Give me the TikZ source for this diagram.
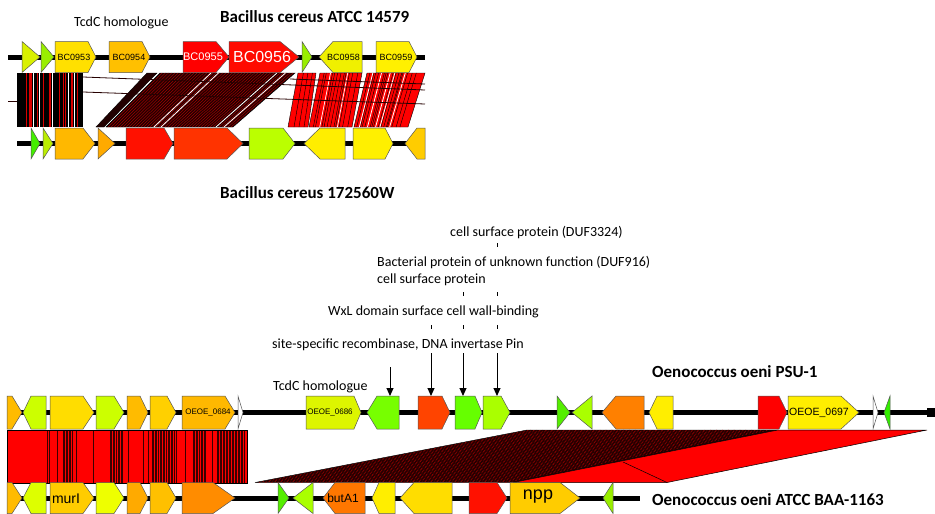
\documentclass[tikz,border=0pt]{standalone}
\usepackage{fontspec}
\setmainfont{Carlito}
\newfontfamily\arialf{Liberation Sans}
\usetikzlibrary{arrows.meta}
\definecolor{darkband}{HTML}{220000}
\definecolor{hatchred}{HTML}{C00000}
\definecolor{geneline}{HTML}{555555}
\definecolor{stripe}{HTML}{3A0000}
\def\gh{15.5}
\newcommand{\geneR}[5]{\definecolor{gc}{HTML}{#5}\filldraw[gene,fill=gc] (#1,#4-\gh) -- (#2-#3,#4-\gh) -- (#2,#4) -- (#2-#3,#4+\gh) -- (#1,#4+\gh) -- cycle;}
\newcommand{\geneL}[5]{\definecolor{gc}{HTML}{#5}\filldraw[gene,fill=gc] (#2,#4-\gh) -- (#1+#3,#4-\gh) -- (#1,#4) -- (#1+#3,#4+\gh) -- (#2,#4+\gh) -- cycle;}
\tikzset{
  gene/.style={draw=geneline,line width=0.5pt,line join=miter},
  track/.style={line width=5pt,black},
  glab/.style={font=\arialf\fontsize{9}{10}\selectfont,inner sep=0pt},
  ttl/.style={font=\bfseries\fontsize{17}{19}\selectfont,anchor=base west,inner sep=0pt},
  ann/.style={font=\fontsize{14}{16}\selectfont,anchor=base west,inner sep=0pt},
  tick/.style={line width=0.8pt},
  pointer/.style={line width=1pt,-{Triangle[length=8pt,width=7pt]}},
  cross/.style={line width=0.8pt,black!85!red},
}
\begin{document}
\begin{tikzpicture}[x=1pt,y=-1pt]
\useasboundingbox (0,0) rectangle (935,514);
\fill[white] (0,0) rectangle (935,514);

% ---------------- titles and annotations
\node[ann] (tcdtop) at (74,26.7) {TcdC homologue};
\node[ttl] (bc14579) at (220,22.5) {Bacillus cereus ATCC 14579};
\node[ttl] (bc172) at (220,198.5) {Bacillus cereus 172560W};
\node[ann] (a1) at (450,236.7) {cell surface protein (DUF3324)};
\node[ann] (a2) at (377,266.7) {Bacterial protein of unknown function (DUF916)};
\node[ann] (a3) at (377,283.3) {cell surface protein};
\node[ann] (a4) at (328,315) {WxL domain surface cell wall-binding};
\node[ann] (a5) at (272,348.3) {site-specific recombinase, DNA invertase Pin};
\node[ann] (tcdmid) at (273,390.7) {TcdC homologue};
\node[ttl] (psu) at (652,377) {Oenococcus oeni PSU-1};
\node[ttl] (baa) at (652,505.5) {Oenococcus oeni ATCC BAA-1163};

% ticks
\draw[tick] (497,243) -- (497,247);
\draw[tick] (463,292) -- (463,296);
\draw[tick] (497,292) -- (497,296);
\draw[tick] (431,325) -- (431,329);
\draw[tick] (463,325) -- (463,329);
\draw[tick] (497,325) -- (497,329);

% ---------------- top panel comparison band
\fill[black] (17,73) rectangle (83,127);
\foreach \x in {26,29,30,31,37,43,49,50,59,63,65,71,72,77}{\draw[red!85!black,line width=1pt] (\x,73) -- (\x,127);}
\foreach \x in {33,39,52,68,74}{\draw[white,line width=0.7pt] (\x,73) -- (\x,127);}
\filldraw[fill=darkband,draw=black,line width=0.4pt] (96,127) -- (147,73) -- (157,73) -- (104,127) -- cycle;
\filldraw[fill=darkband,draw=black,line width=0.4pt] (106,127) -- (160,73) -- (295,73) -- (233,127) -- cycle;
\foreach \o in {2,5,...,125}{\draw[hatchred,line width=0.35pt] (106+\o,127) -- (160+\o*1.063,73);}
\foreach \o in {48,55,110,118}{\draw[white,line width=0.8pt] (106+\o,127) -- (160+\o*1.063,73);}
\filldraw[fill=red,draw=black,line width=0.4pt] (288,127) -- (298,73) -- (316,73) -- (308,127) -- cycle;
\filldraw[fill=red,draw=black,line width=0.4pt] (309,127) -- (320,73) -- (362,73) -- (352,127) -- cycle;
\filldraw[fill=red,draw=black,line width=0.4pt] (354,127) -- (367,73) -- (425,73) -- (408,127) -- cycle;
\foreach \t in {0.3,0.55,0.8}{\draw[black,line width=0.4pt] (288+\t*20,127) -- (298+\t*18,73);}
\foreach \t in {0.1,0.15,0.3,0.35,0.42,0.5,0.58,0.62,0.7,0.78,0.9}{\draw[black,line width=0.4pt] (309+\t*43,127) -- (320+\t*42,73);}
\foreach \t in {0.25,0.66}{\draw[white,line width=0.7pt] (309+\t*43,127) -- (320+\t*42,73);}
\foreach \t in {0.05,0.12,0.15,0.2,0.3,0.33,0.36,0.45,0.5,0.55,0.6,0.62,0.7,0.78,0.85}{\draw[black,line width=0.4pt] (354+\t*54,127) -- (367+\t*58,73);}
\foreach \t in {0.1,0.25,0.4,0.48,0.66}{\draw[white,line width=0.8pt] (354+\t*54,127) -- (367+\t*58,73);}
\draw[cross] (8,101) -- (17,101);
\draw[cross] (83,77) -- (425,90);
\draw[cross] (83,92) -- (425,104);
\draw[cross] (290,79) -- (425,84);

% ---------------- top panel tracks
\draw[track] (8,57) -- (425,57);
\geneR{22}{40}{18}{57}{D9F000}
\geneR{41}{54}{13}{57}{99EE00}
\geneR{55}{96}{8}{57}{FFE000}
\geneR{109}{150}{8}{57}{FFC000}
\geneR{183}{229}{13}{57}{FF0000}
\geneR{229}{299}{19}{57}{FF0A00}
\geneR{302}{312}{10}{57}{99EE00}
\geneL{319}{362}{14}{57}{F0F000}
\geneR{376}{417}{8}{57}{FFF000}
\node[glab] (bc0953) at (74,57) {BC0953};
\node[glab] (bc0954) at (129,57) {BC0954};
\node[glab,white,font=\arialf\fontsize{11}{12}\selectfont] (bc0955) at (203,57) {BC0955};
\node[glab,white,font=\arialf\fontsize{16}{17}\selectfont] (bc0956) at (262,57) {BC0956};
\node[glab] (bc0958) at (343.5,57) {BC0958};
\node[glab] (bc0959) at (396,57) {BC0959};

\draw[track] (17,143.5) -- (425,143.5);
\geneR{31}{40}{9}{143.5}{44EE00}
\geneR{43}{53}{10}{143.5}{BBEE00}
\geneR{55}{95}{12}{143.5}{FFB800}
\geneR{98}{115}{17}{143.5}{FFAA00}
\geneR{126}{173}{9}{143.5}{FF1100}
\geneR{174}{243}{16}{143.5}{FF3300}
\geneR{249}{295}{12}{143.5}{BBFF00}
\geneL{304}{345}{16}{143.5}{FFEE00}
\geneR{353}{393}{8}{143.5}{FFF000}
\geneL{405}{425}{12}{143.5}{FFCC00}

% ---------------- middle/bottom comparison
\fill[red] (7,430) rectangle (247,483);
\foreach \x in {47,49,57,76,93,128,143,148,185,212}{\draw[stripe,line width=0.6pt] (\x,430) -- (\x,483);}
\foreach \x in {63,64.5,...,72}{\draw[stripe,line width=0.7pt] (\x,430) -- (\x,483);}
\foreach \x in {110,111.6,...,123}{\draw[stripe,line width=0.7pt] (\x,430) -- (\x,483);}
\foreach \x in {152,153.6,...,177}{\draw[stripe,line width=0.7pt] (\x,430) -- (\x,483);}
\foreach \x in {193,194.6,...,207}{\draw[stripe,line width=0.7pt] (\x,430) -- (\x,483);}
\foreach \x in {217,218.5,...,245}{\draw[stripe,line width=0.7pt] (\x,430) -- (\x,483);}
\draw[black,line width=0.5pt] (7,430) rectangle (247,483);

\filldraw[fill=darkband,draw=black,line width=0.4pt] (255,482.5) -- (527,430) -- (778,430) -- (513,482.5) -- cycle;
\foreach \o in {4,10,...,250}{\draw[hatchred,line width=0.35pt,dash pattern=on 1.5pt off 2pt] (255+\o,482.5) -- (527+\o*0.97,430);}
\filldraw[fill=red,draw=black,line width=0.5pt] (513,482.5) -- (778,430) -- (927,430) -- (667,482.5) -- cycle;
\draw[black,line width=0.5pt] (623,462) -- (667,482.5);

% ---------------- middle track (PSU-1)
\draw[track] (8,412.5) -- (927,412.5);
\fill[black] (927,407.5) rectangle (935,417);
\def\gh{16.5}
\geneR{7}{22}{10}{412.5}{FFBB00}
\geneL{23}{46}{8}{412.5}{CCFF00}
\geneR{50}{94}{11}{412.5}{FFDD00}
\geneR{96}{124}{10}{412.5}{CCFF00}
\geneR{127}{148}{8}{412.5}{FFBB00}
\geneR{150}{176}{9}{412.5}{FFD000}
\geneR{182}{235}{10}{412.5}{FFB800}
\geneR{238}{243}{5}{412.5}{FFFFFF}
\geneR{306}{361}{7}{412.5}{DDF500}
\geneL{367}{399}{10}{412.5}{77FF00}
\geneR{418}{450}{8}{412.5}{FF4400}
\geneR{455}{482}{7}{412.5}{66FF00}
\geneR{483}{510}{9}{412.5}{AAFF00}
\geneR{557}{570}{13}{412.5}{55EE00}
\geneL{572}{592}{20}{412.5}{AAFF00}
\geneL{602}{644}{14}{412.5}{FF8000}
\geneL{649}{673}{8}{412.5}{FFEE00}
\geneR{758}{787}{8}{412.5}{FF0000}
\geneR{788}{859}{18}{412.5}{FFEE00}
\geneR{873}{878}{5}{412.5}{FFFFFF}
\geneL{884}{890}{6}{412.5}{33EE00}
\node[glab,font=\arialf\fontsize{8}{9}\selectfont] (oe684) at (208,412.5) {OEOE\_0684};
\node[glab,font=\arialf\fontsize{8}{9}\selectfont] (oe686) at (330,412.5) {OEOE\_0686};
\node[glab,font=\arialf\fontsize{10.5}{11}\selectfont] (oe697) at (819,412.5) {OEOE\_0697};

% ---------------- bottom track (BAA-1163)
\draw[track] (7,498) -- (640,498);
\def\gh{15.5}
\geneR{7}{22}{10}{498}{FFBB00}
\geneL{23}{46}{8}{498}{DDFF00}
\geneR{50}{94}{11}{498}{FFCC00}
\geneR{96}{124}{10}{498}{EEFF00}
\geneR{127}{148}{8}{498}{FFAA00}
\geneR{150}{176}{9}{498}{FFC000}
\geneR{182}{235}{22}{498}{FF8C00}
\geneR{278}{289}{11}{498}{55EE00}
\geneL{293}{313}{20}{498}{AAFF00}
\geneL{323}{365}{12}{498}{FF7700}
\geneL{372}{395}{7}{498}{FFEE00}
\geneL{400}{452}{14}{498}{FFDD00}
\geneR{469}{507}{10}{498}{FF1100}
\geneR{510}{580}{20}{498}{FFCC00}
\geneL{603}{613}{10}{498}{99EE00}
\node[glab,font=\arialf\fontsize{14}{15}\selectfont] (muri) at (66,499) {murI};
\node[glab,font=\arialf\fontsize{12}{13}\selectfont] (buta) at (343,498.5) {butA1};
\node[glab,font=\arialf\fontsize{18}{19}\selectfont] (npp) at (538,497) {npp};

% ---------------- pointers
\coordinate (p0s) at (390,367); \coordinate (p0e) at (390,396);
\coordinate (p1s) at (431,353); \coordinate (p1e) at (431,396);
\coordinate (p2s) at (463,353); \coordinate (p2e) at (463,396);
\coordinate (p3s) at (497,353); \coordinate (p3e) at (497,396);
\draw[pointer] (p0s) -- (p0e);
\draw[pointer] (p1s) -- (p1e);
\draw[pointer] (p2s) -- (p2e);
\draw[pointer] (p3s) -- (p3e);
\end{tikzpicture}
\end{document}
